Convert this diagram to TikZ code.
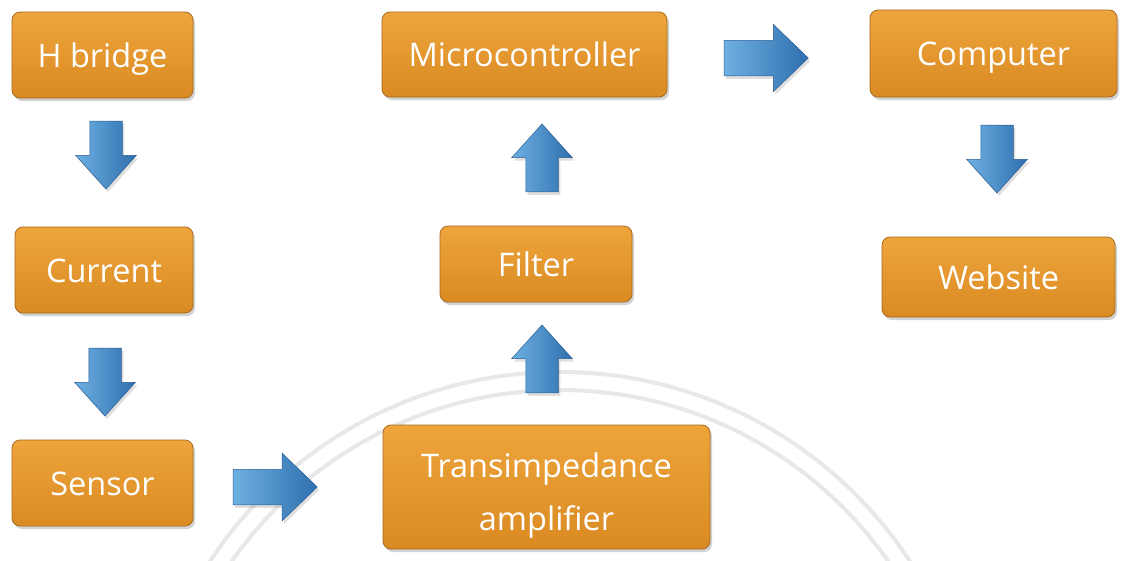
\documentclass[tikz,border=0pt]{standalone}
\usepackage{fontspec}
\setmainfont{Open Sans}
\usetikzlibrary{shapes.arrows,shadows}
\definecolor{boxtop}{HTML}{EEA53C}
\definecolor{boxbot}{HTML}{DA8A22}
\definecolor{boxedge}{HTML}{A86A1C}
\definecolor{arrlight}{HTML}{6EB0E2}
\definecolor{arrmid}{HTML}{4A8FCB}
\definecolor{arrdark}{HTML}{2E6FAE}
\definecolor{arredge}{HTML}{2A5F94}
\tikzset{
  boxfont/.style={font=\fontsize{32.5}{53}\selectfont},
  blockbox/.style={rectangle, rounded corners=8pt, draw=boxedge, line width=0.8pt,
    top color=boxtop, bottom color=boxbot, text=white, align=center,
    boxfont, inner sep=0pt,
    drop shadow={opacity=0.35, shadow xshift=2pt, shadow yshift=-3pt}},
  onelabel/.style={text height=24pt, text depth=0pt},
  blockarrow/.style={single arrow, draw=arredge, line width=0.5pt,
    left color=arrlight, middle color=arrmid, right color=arrdark, inner xsep=0pt, inner ysep=16pt,
    single arrow head extend=14pt, single arrow tip angle=84, minimum height=68pt,
    drop shadow={opacity=0.25, shadow xshift=2pt, shadow yshift=-3pt}},
  wide/.style={inner ysep=17.5pt, single arrow head extend=16pt, minimum height=84pt,
    single arrow tip angle=88},
  seal/.style={draw=black!9, line width=4pt}
}
\begin{document}
\begin{tikzpicture}[x=1pt,y=-1pt]
\useasboundingbox[fill=white] (0,0) rectangle (1131,560);
% faint watermark rings
\draw[seal] (560,790) circle[radius=400];
\draw[seal] (560,790) circle[radius=418];
% boxes
\node[blockbox, onelabel, minimum width=181pt, minimum height=86pt] (hb) at (102.5,55) {H bridge};
\node[blockbox, onelabel, minimum width=178pt, minimum height=86pt] (cur) at (104,270) {Current};
\node[blockbox, onelabel, minimum width=181pt, minimum height=86pt] (sen) at (102.5,483) {Sensor};
\node[blockbox, minimum width=327pt, minimum height=124pt] (tia) at (546.5,487) {};
\node (tiatext) at ([yshift=-9pt]tia.center) [text=white, align=center, boxfont, inner sep=0pt] {Transimpedance\\amplifier};
\node[blockbox, onelabel, minimum width=192pt, minimum height=76pt] (fil) at (536,264) {Filter};
\node[blockbox, onelabel, minimum width=285pt, minimum height=85pt] (mcu) at (524.5,54.5) {Microcontroller};
\node[blockbox, onelabel, minimum width=247pt, minimum height=87pt] (com) at (993.5,53.5) {Computer};
\node[blockbox, onelabel, minimum width=233pt, minimum height=80pt] (web) at (998.5,277) {Website};
% block arrows
\node[blockarrow, rotate=-90] (a1) at (106,146) {};
\node[blockarrow, rotate=-90] (a2) at (105,373) {};
\node[blockarrow, wide] (a3) at (266,487) {};
\node[blockarrow, rotate=90] (a4) at (542,368) {};
\node[blockarrow, rotate=90] (a5) at (542,167) {};
\node[blockarrow, wide] (a6) at (757,58) {};
\node[blockarrow, rotate=-90] (a7) at (997,150) {};
\end{tikzpicture}
\end{document}
